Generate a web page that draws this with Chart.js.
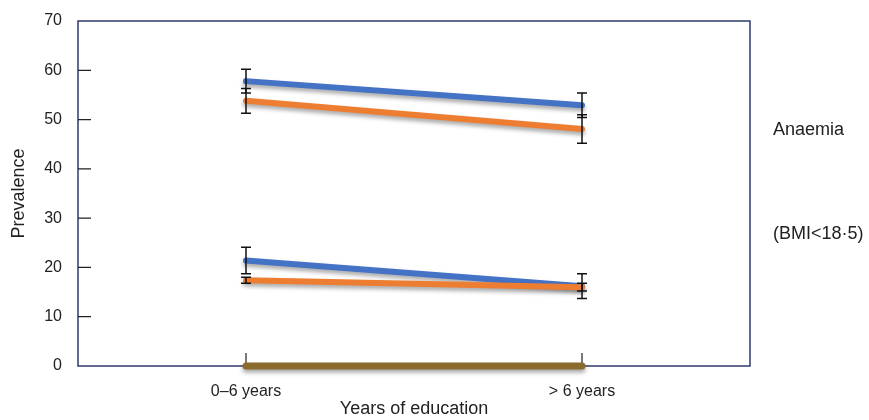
<!DOCTYPE html>
<html>
<head>
<meta charset="utf-8">
<script src="https://cdn.jsdelivr.net/npm/chart.js@4.4.1/dist/chart.umd.min.js"></script>
<style>
  html, body { margin: 0; padding: 0; background: #fff; }
  #wrap { width: 869px; height: 420px; }
</style>
</head>
<body>
<div id="wrap"><canvas id="chart" width="869" height="420"></canvas></div>
<script>
const categories = ['0–6 years', '> 6 years'];

// anaemia prevalence
const anaemiaBlue = [57.8, 52.9];
const anaemiaBlueErr = [2.4, 2.5];
const anaemiaOrange = [53.8, 48.1];
const anaemiaOrangeErr = [2.5, 2.9];

// BMI < 18.5 prevalence
const bmiBlue = [21.4, 16.2];
const bmiBlueErr = [2.7, 2.5];
const bmiOrange = [17.4, 16.0];
const bmiOrangeErr = [0.6, 0.8];

const baseline = [0, 0];

const yTicks = [0, 10, 20, 30, 40, 50, 60, 70];
const sideLabels = [{ text: 'Anaemia', value: 47.9 }, { text: '(BMI<18·5)', value: 26.8 }];

const BLUE = '#4472C4', ORANGE = '#ED7D31', BROWN = '#8B6A2E', AXIS = '#2F3A6B', TEXT = '#222';
const FONT = '"Liberation Sans", Arial, sans-serif';

function line(data, color, err, width) {
    return {
        data: data, err: err, borderColor: color, backgroundColor: color,
        borderWidth: width || 6, pointRadius: 0, borderCapStyle: 'round', tension: 0, fill: false, clip: false
    };
}

// box and inward tick marks, drawn under the lines
const frame = {
    id: 'frame',
    beforeDatasetsDraw(chart) {
        const ctx = chart.ctx, a = chart.chartArea;
        const x = chart.scales.x, y = chart.scales.y;
        ctx.save();
        ctx.strokeStyle = AXIS;
        ctx.lineWidth = 1.5;
        ctx.strokeRect(a.left, a.top, a.right - a.left, a.bottom - a.top);
        ctx.strokeStyle = '#222';
        ctx.lineWidth = 1.2;
        ctx.beginPath();
        y.ticks.forEach(t => {
            if (t.value === y.min || t.value === y.max) return;
            const py = y.getPixelForValue(t.value);
            ctx.moveTo(a.left, py); ctx.lineTo(a.left + 13, py);
        });
        categories.forEach((c, i) => {
            const px = x.getPixelForValue(i);
            ctx.moveTo(px, a.bottom); ctx.lineTo(px, a.bottom - 13);
        });
        ctx.stroke();
        ctx.restore();
        // soft shadow under the lines
        ctx.save();
        ctx.shadowColor = 'rgba(0,0,0,0.35)';
        ctx.shadowBlur = 4;
        ctx.shadowOffsetY = 3;
    },
    afterDatasetsDraw(chart) {
        chart.ctx.restore();
    }
};

const errorBars = {
    id: 'errorBars',
    afterDatasetsDraw(chart) {
        const ctx = chart.ctx;
        const x = chart.scales.x, y = chart.scales.y;
        ctx.save();
        ctx.strokeStyle = '#111';
        ctx.lineWidth = 1.5;
        chart.data.datasets.forEach(ds => {
            if (!ds.err) return;
            ds.data.forEach((v, i) => {
                const px = x.getPixelForValue(i);
                const top = y.getPixelForValue(v + ds.err[i]);
                const bot = y.getPixelForValue(v - ds.err[i]);
                ctx.beginPath();
                ctx.moveTo(px, top); ctx.lineTo(px, bot);
                ctx.moveTo(px - 5, top); ctx.lineTo(px + 5, top);
                ctx.moveTo(px - 5, bot); ctx.lineTo(px + 5, bot);
                ctx.stroke();
            });
        });
        ctx.restore();
    },
    afterDraw(chart) {
        const ctx = chart.ctx, a = chart.chartArea, y = chart.scales.y;
        ctx.save();
        ctx.fillStyle = TEXT;
        ctx.font = '18px ' + FONT;
        ctx.textBaseline = 'middle';
        sideLabels.forEach(s => ctx.fillText(s.text, a.right + 23, y.getPixelForValue(s.value)));
        ctx.restore();
    }
};

new Chart(document.getElementById('chart'), {
    type: 'line',
    data: {
        labels: categories,
        datasets: [
            line(baseline, BROWN, null, 7),
            line(bmiOrange, ORANGE, bmiOrangeErr),
            line(bmiBlue, BLUE, bmiBlueErr),
            line(anaemiaOrange, ORANGE, anaemiaOrangeErr),
            line(anaemiaBlue, BLUE, anaemiaBlueErr)
        ]
    },
    options: {
        responsive: false, animation: false,
        layout: { padding: { left: 0, right: 119, top: 21, bottom: 0 } },
        plugins: { legend: { display: false }, tooltip: { enabled: false } },
        scales: {
            x: {
                offset: true,
                grid: { display: false, drawTicks: false },
                border: { display: false },
                ticks: { color: TEXT, font: { family: FONT, size: 16 }, padding: 16 },
                title: { display: true, text: 'Years of education', color: TEXT, font: { family: FONT, size: 18 }, padding: { top: 0, bottom: 0 } },
                afterFit(s) { s.height = 54; s.paddingLeft = 0; s.paddingRight = 0; }
            },
            y: {
                min: 0, max: 70,
                grid: { display: false, drawTicks: false },
                border: { display: false },
                afterBuildTicks(s) { s.ticks = yTicks.map(v => ({ value: v })); },
                ticks: { color: TEXT, font: { family: FONT, size: 16 }, padding: 16 },
                title: { display: true, text: 'Prevalence', color: TEXT, font: { family: FONT, size: 18 }, padding: { top: 8, bottom: 0 } },
                afterFit(s) { s.width = 78; s.paddingTop = 0; s.paddingBottom = 0; }
            }
        }
    },
    plugins: [frame, errorBars]
});
</script>
</body>
</html>
